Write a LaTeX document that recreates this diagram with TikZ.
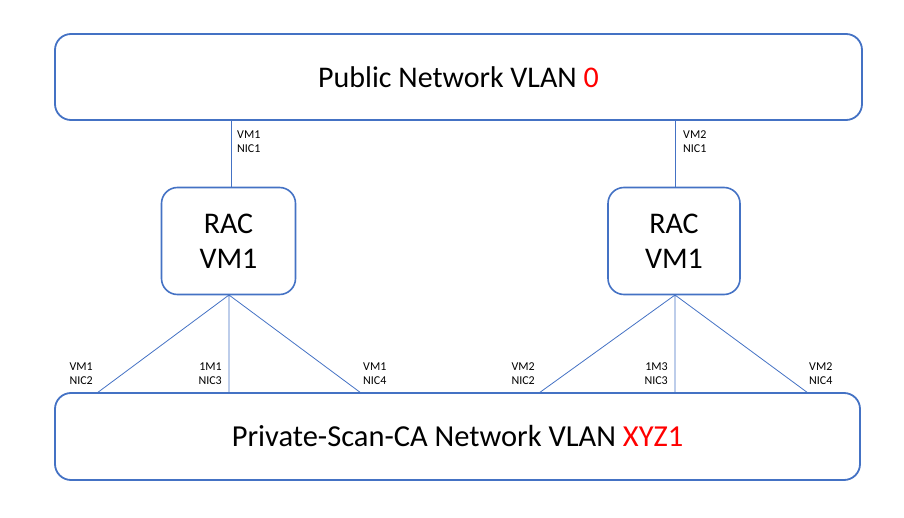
\documentclass[tikz,border=0pt]{standalone}
\usepackage{fontspec}
\setmainfont{Carlito}
\definecolor{bl}{HTML}{4472C4}
\definecolor{rd}{HTML}{FF0000}
\begin{document}
\begin{tikzpicture}[x=1pt,y=-1pt,
  net/.style={draw=bl,line width=1.8pt,rounded corners=16pt},
  rac/.style={draw=bl,line width=1.6pt,rounded corners=16pt},
  link/.style={draw=bl,line width=0.8pt},
  lbl/.style={font=\fontsize{12}{14}\selectfont,align=left,inner sep=0pt}]
\useasboundingbox (0,0) rectangle (904,518);
\node[net,minimum width=807pt,minimum height=86pt] (pub) at (458.5,77) {};
\node at (pub.center) {\fontsize{30}{36}\selectfont Public Network VLAN \textcolor{rd}{0}};
\node[net,minimum width=805pt,minimum height=87pt] (priv) at (457.5,436.5) {};
\node at (priv.center) {\fontsize{30.5}{36}\selectfont Private-Scan-CA Network VLAN \textcolor{rd}{XYZ1}};
\node[rac,minimum width=134pt,minimum height=107pt,align=center,font=\fontsize{30}{35}\selectfont] (r1) at (228.5,241) {RAC\\VM1};
\node[rac,minimum width=132pt,minimum height=107pt,align=center,font=\fontsize{30}{35}\selectfont] (r2) at (674,241) {RAC\\VM1};
\coordinate (p1) at (231,120);
\coordinate (p2) at (675,120);
\draw[link] (p1) -- (r1.north -| p1);
\draw[link] (p2) -- (r2.north -| p2);
\coordinate (a1) at (97,393); \coordinate (a2) at (229,393); \coordinate (a3) at (361,393);
\coordinate (b1) at (539,393); \coordinate (b2) at (675,393); \coordinate (b3) at (808,393);
\coordinate (s1) at (229,295); \coordinate (s2) at (675,295);
\draw[link] (s1) -- (a1) (s1) -- (a2) (s1) -- (a3);
\draw[link] (s2) -- (b1) (s2) -- (b2) (s2) -- (b3);
\node[lbl,anchor=north west] (l1) at (237,131) {VM1\\NIC1};
\node[lbl,anchor=north west] (l2) at (683,131) {VM2\\NIC1};
\node[lbl,anchor=north east,align=right] (l3) at (93,363) {VM1\\NIC2};
\node[lbl,anchor=north east,align=right] (l4) at (222,363) {1M1\\NIC3};
\node[lbl,anchor=north west] (l5) at (363,363) {VM1\\NIC4};
\node[lbl,anchor=north east,align=right] (l6) at (535,363) {VM2\\NIC2};
\node[lbl,anchor=north east,align=right] (l7) at (668,363) {1M3\\NIC3};
\node[lbl,anchor=north west] (l8) at (809,363) {VM2\\NIC4};
\end{tikzpicture}
\end{document}
